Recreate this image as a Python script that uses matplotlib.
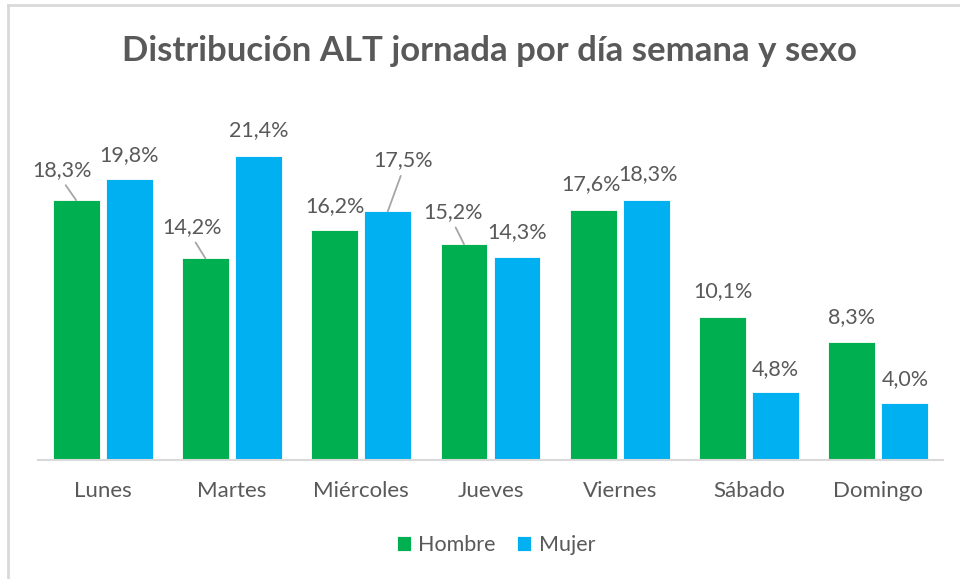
import matplotlib.pyplot as plt
from matplotlib.lines import Line2D
import numpy as np

plt.rcParams['font.family'] = ['Lato', 'DejaVu Sans']

# Datos
dias = ['Lunes', 'Martes', 'Miércoles', 'Jueves', 'Viernes', 'Sábado', 'Domingo']
hombre = [18.3, 14.2, 16.2, 15.2, 17.6, 10.1, 8.3]
mujer = [19.8, 21.4, 17.5, 14.3, 18.3, 4.8, 4.0]

# desplazamiento de etiquetas (px) respecto al centro superior de la barra
off_h = [(-14, 30), (-13, 31), (0, 24), (-11, 32), (-2, 26), (0, 25), (0, 25)]
off_m = [(0, 24), (0, 26), (15, 51), (0, 25), (2, 26), (0, 23), (0, 24)]
leader_h = [True, True, False, True, False, False, False]
leader_m = [False, False, True, False, False, False, False]

verde = '#00B050'
azul = '#00B0F0'
gris = '#595959'

fig = plt.figure(figsize=(9.6, 5.79), dpi=100)
ax = fig.add_axes([38 / 960, 1 - 460 / 579, 905 / 960, 355 / 579])

x = np.arange(len(dias))
w = 0.363
d = 0.205
b1 = ax.bar(x - d, hombre, w, color=verde, edgecolor='white', linewidth=0.6, label='Hombre')
b2 = ax.bar(x + d, mujer, w, color=azul, edgecolor='white', linewidth=0.6, label='Mujer')

def etiquetas(barras, vals, offs, leaders):
    for b, v, o, l in zip(barras, vals, offs, leaders):
        xc = b.get_x() + b.get_width() / 2
        props = None
        if l:
            props = dict(arrowstyle='-', color='#A6A6A6', lw=1.3, shrinkA=2, shrinkB=0,
                         relpos=(0.5, 0.0))
        ax.annotate(f'{v:.1f}%'.replace('.', ','), xy=(xc, v), xytext=o,
                    textcoords='offset pixels', ha='center', va='center',
                    fontsize=15.5, color=gris, arrowprops=props)

etiquetas(b1, hombre, off_h, leader_h)
etiquetas(b2, mujer, off_m, leader_m)

ax.set_xlim(-0.5, len(dias) - 0.5)
ax.set_ylim(0, 25)
ax.set_xticks(x)
ax.set_xticklabels(dias, fontsize=16, color=gris)
ax.tick_params(axis='x', length=0, pad=15)
ax.set_yticks([])
for s in ['top', 'right', 'left']:
    ax.spines[s].set_visible(False)
ax.spines['bottom'].set_color('#D9D9D9')
ax.spines['bottom'].set_linewidth(1.5)

fig.text(489 / 960, 1 - 51 / 579, 'Distribución ALT jornada por día semana y sexo',
         ha='center', va='center', fontsize=25, fontweight='bold', color=gris)

fig.legend(handles=[b1, b2], loc='center', bbox_to_anchor=(496 / 960, 1 - 545 / 579),
           ncol=2, frameon=False, fontsize=15.5, labelcolor=gris,
           handlelength=0.65, handleheight=0.65, handletextpad=0.35, columnspacing=1.0)

# borde del gráfico
fig.add_artist(Line2D([8 / 960, 1], [1 - 5 / 579] * 2, color='#D9D9D9', lw=2))
fig.add_artist(Line2D([8 / 960] * 2, [0, 1 - 5 / 579], color='#D9D9D9', lw=2))

fig.savefig('out.png', dpi=100, facecolor='white')
